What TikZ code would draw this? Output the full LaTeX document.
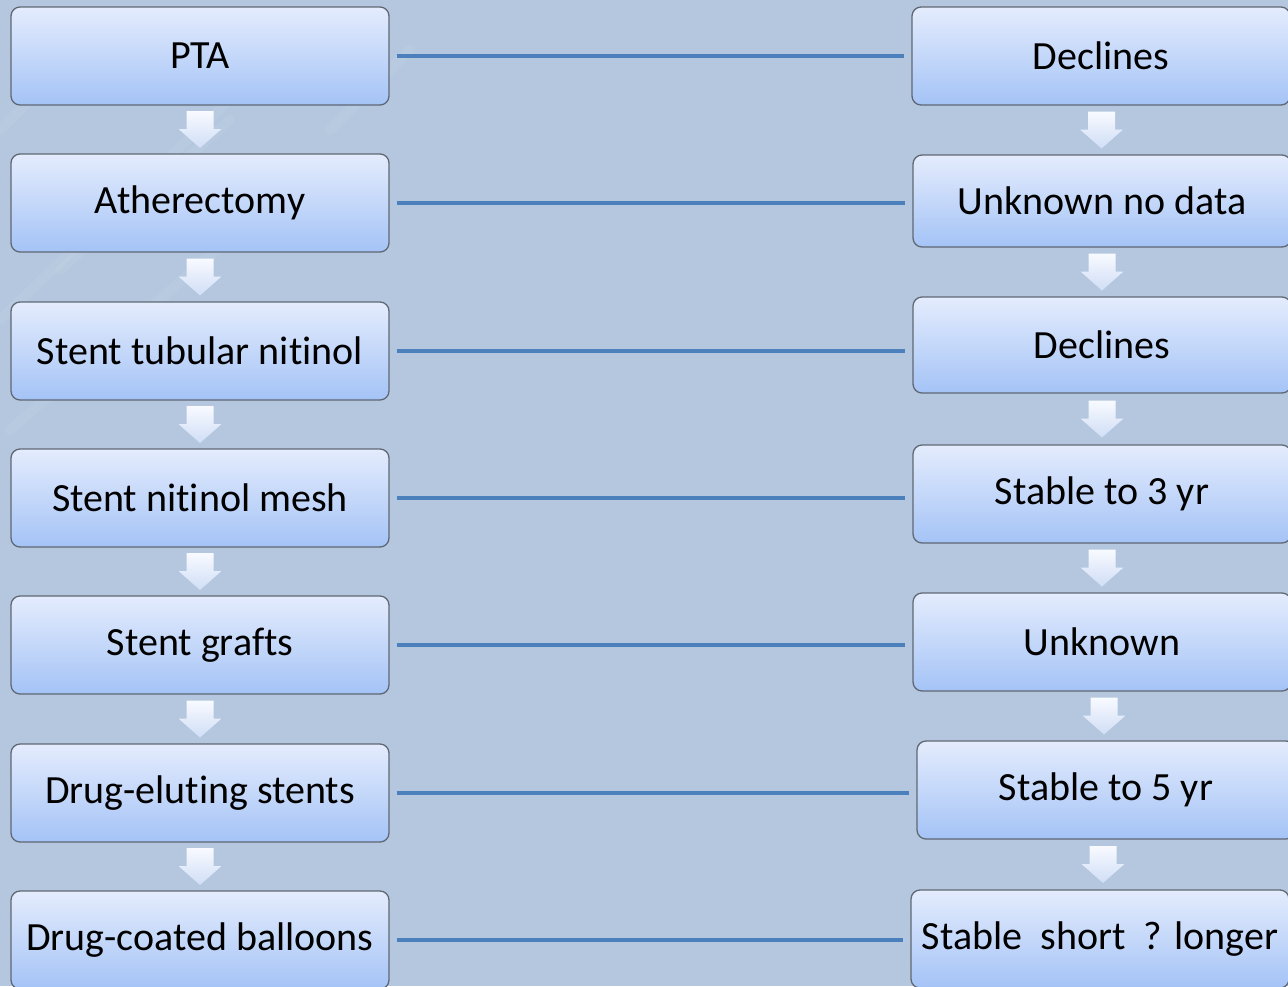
\documentclass[tikz,border=0pt]{standalone}
\usepackage{fontspec}
\setmainfont{Carlito}[RawFeature={-liga}]
\usetikzlibrary{calc}
\definecolor{bgcol}{RGB}{180,199,222}
\definecolor{boxtop}{RGB}{228,236,253}
\definecolor{boxbot}{RGB}{164,195,246}
\definecolor{boxline}{RGB}{96,104,116}
\definecolor{linkcol}{RGB}{76,128,189}
\definecolor{arrtop}{RGB}{248,250,255}
\definecolor{arrbot}{RGB}{208,222,246}
\tikzset{
  stagebox/.style={draw=boxline, line width=1.3pt, rounded corners=9pt,
    top color=boxtop, bottom color=boxbot, minimum width=378pt,
    minimum height=98pt, inner sep=0pt, font=\fontsize{40}{48}\selectfont,
    text=black},
  linkline/.style={draw=linkcol, line width=4pt, shorten <=7pt, shorten >=7pt},
  downarrow/.style={top color=arrtop, bottom color=arrbot, draw=none}
}
\newcommand{\blockarrow}[2]{%
  \path[downarrow] ($(#1.south)!0.5!(#2.north)$) ++(-13.5,-18.5)
    -- ++(27,0) -- ++(0,18) -- ++(8,0) -- ++(-21.5,19) -- ++(-21.5,-19)
    -- ++(8,0) -- cycle;}
\begin{document}
\begin{tikzpicture}[x=1pt,y=-1pt]
\useasboundingbox (0,0) rectangle (1288,986);
\clip (0,0) rectangle (1288,986);
\fill[bgcol] (0,0) rectangle (1288,986);
% faint background streaks at upper left
\begin{scope}[white, opacity=0.06, line width=10pt, line cap=round]
  \draw (0,130) -- (110,20);
  \draw (0,320) -- (250,80);
  \draw (10,430) -- (320,160);
  \draw (60,270) -- (230,120);
  \draw (330,130) -- (410,50);
\end{scope}
% left column
\node[stagebox] (L1) at (200,56) {PTA};
\node[stagebox] (L2) at (200,203) {Atherectomy};
\node[stagebox] (L3) at (200,351) {Stent tubular nitinol};
\node[stagebox] (L4) at (200,498) {Stent nitinol mesh};
\node[stagebox] (L5) at (200,645) {Stent grafts};
\node[stagebox] (L6) at (200,793) {Drug-eluting stents};
\node[stagebox] (L7) at (200,940) {Drug-coated balloons};
% right column
\node[stagebox] (R1) at (1101,56) {Declines};
\node[stagebox, minimum height=92pt] (R2) at (1102,201) {Unknown no data};
\node[stagebox, minimum height=96pt] (R3) at (1102,345) {Declines};
\node[stagebox] (R4) at (1102,494) {Stable to 3 yr};
\node[stagebox] (R5) at (1102,642) {Unknown};
\node[stagebox] (R6) at (1106,790) {Stable to 5 yr};
\node[stagebox] (R7) at (1100,939) {Stable\ \ short\ \ ? longer};
% links
\foreach \i in {1,...,7}{
  \draw[linkline] (L\i.east) -- (L\i.east -| R\i.west);
}
% down arrows
\foreach \a/\b in {1/2,2/3,3/4,4/5,5/6,6/7}{
  \blockarrow{L\a}{L\b}
  \blockarrow{R\a}{R\b}
}
\end{tikzpicture}
\end{document}
